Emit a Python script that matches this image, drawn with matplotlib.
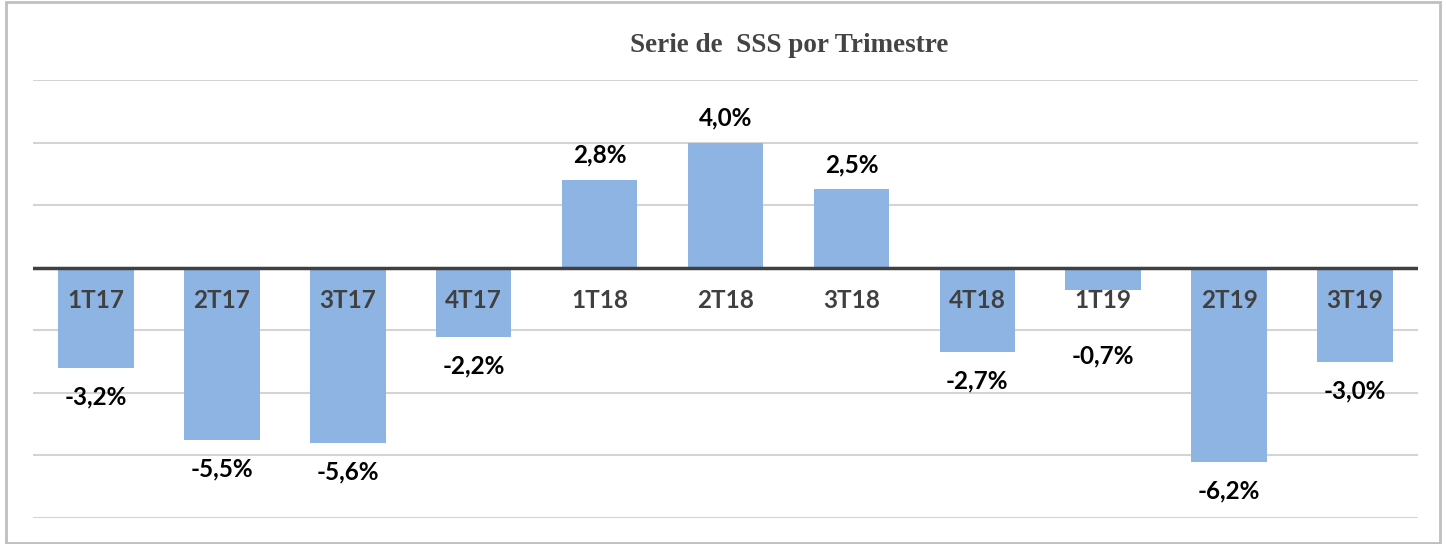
import numpy as np
import matplotlib.pyplot as plt
from matplotlib.patches import Rectangle

# ------------------------------- DATA ---------------------------------------
quarters = ["1T17", "2T17", "3T17", "4T17", "1T18", "2T18", "3T18",
            "4T18", "1T19", "2T19", "3T19"]
sss = [-3.2, -5.5, -5.6, -2.2, 2.8, 4.0, 2.5, -2.7, -0.7, -6.2, -3.0]
title = "Serie de  SSS por Trimestre"

# ------------------------------- STYLE --------------------------------------
BAR_COLOR = "#8EB4E3"
GRID_COLOR = "#D4D4D4"
ZERO_COLOR = "#404040"
plt.rcParams["font.family"] = ["Lato", "DejaVu Sans"]

fig = plt.figure(figsize=(14.46, 5.44), dpi=100)
ax = fig.add_axes([33 / 1446, 1 - 518 / 544, (1418 - 33) / 1446, (518 - 80) / 544])

x = np.arange(len(quarters))
ax.bar(x, sss, width=0.6, color=BAR_COLOR, zorder=2)

ax.set_xlim(-0.5, len(quarters) - 0.5)
ax.set_ylim(-8, 6)
ax.set_yticks(np.arange(-8, 7, 2))
ax.yaxis.grid(True, color=GRID_COLOR, linewidth=1.5, zorder=0)
ax.axhline(0, color=ZERO_COLOR, linewidth=2.5, zorder=3)
ax.tick_params(left=False, bottom=False, labelleft=False, labelbottom=False)
for s in ax.spines.values():
    s.set_visible(False)

# category labels just under the zero line
for xi, q in zip(x, quarters):
    ax.annotate(q, (xi, 0), xytext=(0, -33), textcoords="offset pixels",
                ha="center", va="center", fontsize=17.5, fontweight="bold",
                color="#404040", zorder=4)

# value labels outside the bar end (short negatives pushed below category)
for xi, v in zip(x, sss):
    txt = f"{v:.1f}%".replace(".", ",")
    if v >= 0:
        ax.annotate(txt, (xi, v), xytext=(0, 25), textcoords="offset pixels",
                    ha="center", va="center", fontsize=17.5, fontweight="bold",
                    color="black", zorder=4)
    else:
        ax.annotate(txt, (xi, min(v, -1.9)), xytext=(0, -29),
                    textcoords="offset pixels", ha="center", va="center",
                    fontsize=17.5, fontweight="bold", color="black", zorder=4)

fig.text(789 / 1446, 1 - 45 / 544, title, ha="center", va="center",
         fontsize=19.5, fontweight="bold", color="#444444",
         family=["Liberation Serif", "DejaVu Serif"])

# light frame around the chart
fig.patches.append(Rectangle((6 / 1446, 1 / 544), 1434 / 1446, 541 / 544,
                             transform=fig.transFigure, fill=False,
                             edgecolor="#BFBFBF", linewidth=2))

fig.savefig("out.png", dpi=100)
plt.close(fig)
